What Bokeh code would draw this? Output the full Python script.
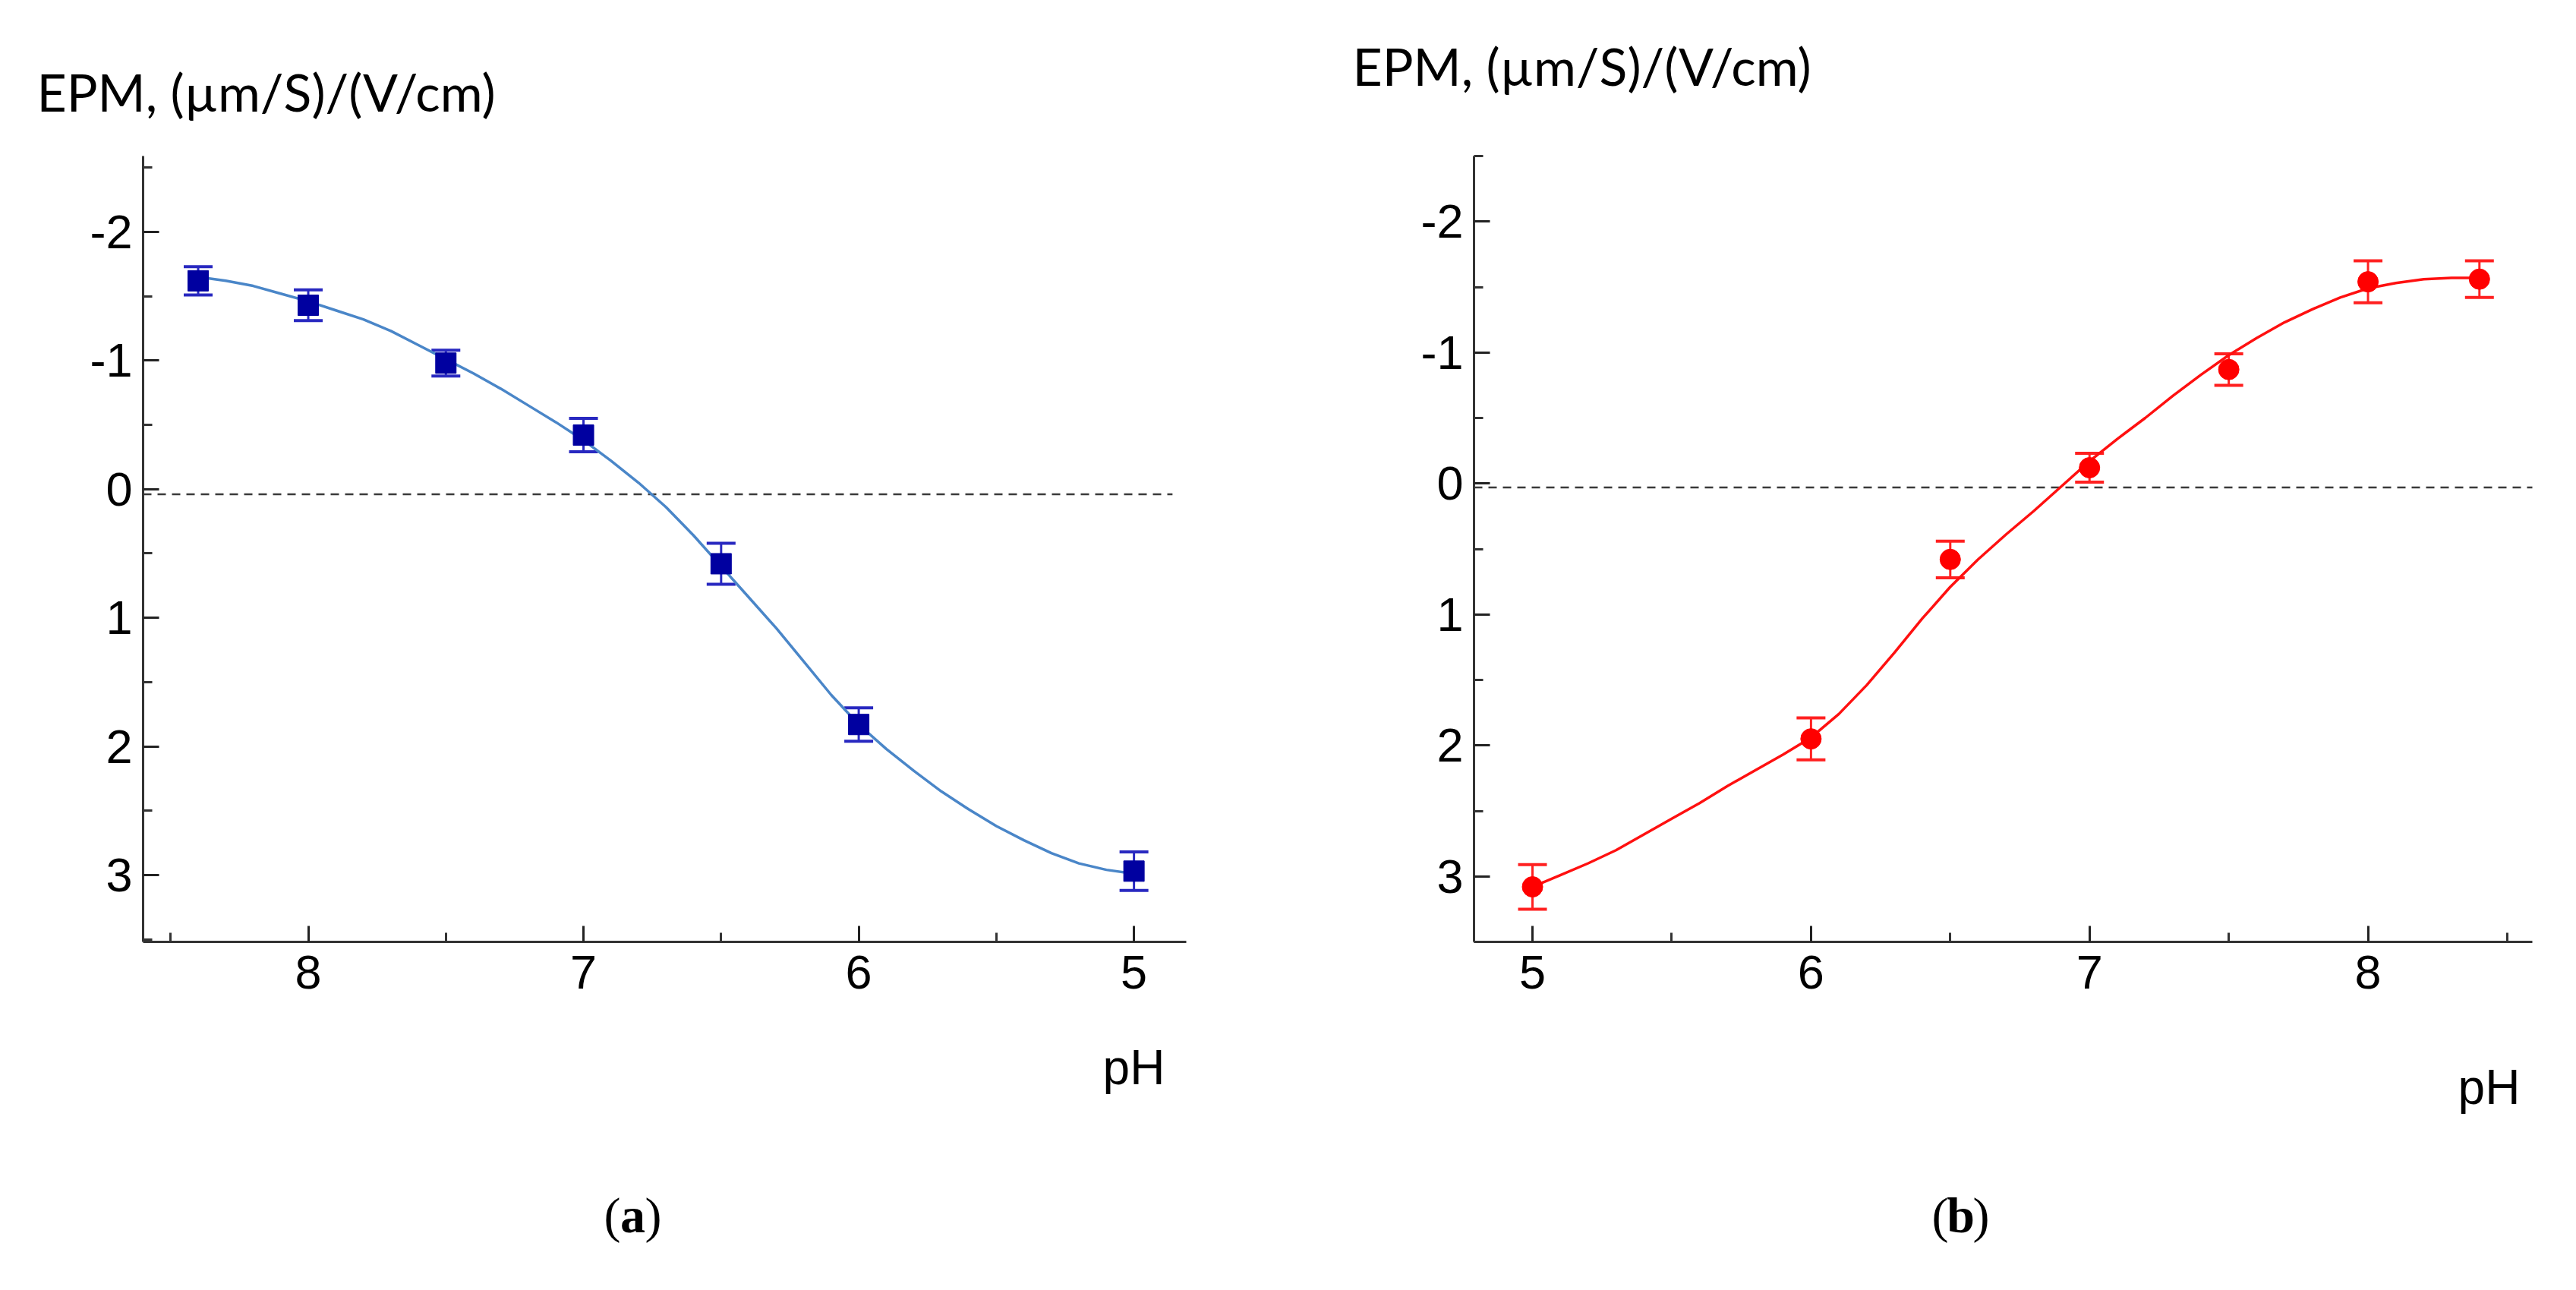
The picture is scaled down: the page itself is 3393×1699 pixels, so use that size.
from bokeh.plotting import figure
from bokeh.layouts import row, column
from bokeh.models import (ColumnDataSource, Range1d, FixedTicker, Whisker, TeeHead,
                          PrintfTickFormatter)
from bokeh.core.properties import value
from bokeh.embed import file_html
from bokeh.resources import INLINE

# panel (a): pH falling from 8.4 to 5
ph_a = [8.4, 8.0, 7.5, 7.0, 6.5, 6.0, 5.0]
epm_a = [-1.62, -1.43, -0.98, -0.42, 0.58, 1.83, 2.97]
err_a = [0.11, 0.12, 0.10, 0.13, 0.16, 0.13, 0.15]
fit_ph_a = [8.4, 8.3, 8.2, 8.1, 8.0, 7.9, 7.8, 7.7, 7.6, 7.5, 7.4, 7.3, 7.2, 7.1, 7.0,
            6.9, 6.8, 6.7, 6.6, 6.5, 6.4, 6.3, 6.2, 6.1, 6.0, 5.9, 5.8, 5.7, 5.6, 5.5,
            5.4, 5.3, 5.2, 5.1, 5.0]
fit_epm_a = [-1.65, -1.62, -1.58, -1.52, -1.46, -1.39, -1.32, -1.23, -1.12, -1.01, -0.90,
             -0.78, -0.65, -0.52, -0.38, -0.22, -0.05, 0.14, 0.36, 0.60, 0.84, 1.08, 1.34,
             1.60, 1.83, 2.02, 2.19, 2.35, 2.49, 2.62, 2.73, 2.83, 2.91, 2.96, 2.99]

# panel (b): pH rising from 5 to 8.4
ph_b = [5.0, 6.0, 6.5, 7.0, 7.5, 8.0, 8.4]
epm_b = [3.08, 1.95, 0.58, -0.12, -0.87, -1.54, -1.56]
err_b = [0.17, 0.16, 0.14, 0.11, 0.12, 0.16, 0.14]
fit_ph_b = [5.0, 5.1, 5.2, 5.3, 5.4, 5.5, 5.6, 5.7, 5.8, 5.9, 6.0, 6.1, 6.2, 6.3, 6.4,
            6.5, 6.6, 6.7, 6.8, 6.9, 7.0, 7.1, 7.2, 7.3, 7.4, 7.5, 7.6, 7.7, 7.8, 7.9,
            8.0, 8.1, 8.2, 8.3, 8.4]
fit_epm_b = [3.08, 2.99, 2.90, 2.80, 2.68, 2.56, 2.44, 2.31, 2.19, 2.07, 1.94, 1.76, 1.54,
             1.29, 1.03, 0.79, 0.58, 0.39, 0.21, 0.02, -0.17, -0.34, -0.50, -0.67, -0.83,
             -0.98, -1.11, -1.23, -1.33, -1.42, -1.49, -1.53, -1.56, -1.57, -1.57]

zero_a = ([8.6, 4.86], [0.04, 0.04])
zero_b = ([4.79, 8.61], [0.03, 0.03])

y_ticks = [-2, -1, 0, 1, 2, 3]
y_minor = [-2.5, -1.5, -0.5, 0.5, 1.5, 2.5, 3.5]
x_ticks = [5, 6, 7, 8]
x_minor = [5.5, 6.5, 7.5, 8.5]

y_title = "EPM, (\u00b5m/S)/(V/cm)"
x_title = "pH"
tags = ["a", "b"]

W_A, W_B = 1690, 1687
TOP_H, MAIN_H, BOT_H = 180, 1170, 333


def make_panel(width, x_range, y_range, left, right, ph, epm, err, fit_ph, fit_epm, zero,
               marker, mcolor, ecolor, fcolor):
    p = figure(width=width, height=MAIN_H, x_range=x_range, y_range=y_range,
               output_backend="svg", toolbar_location=None,
               min_border_left=left, min_border_right=right,
               min_border_top=25, min_border_bottom=110)
    p.grid.visible = False
    p.outline_line_color = None

    for ax, ticks, minor in [(p.xaxis[0], x_ticks, x_minor), (p.yaxis[0], y_ticks, y_minor)]:
        ax.ticker = FixedTicker(ticks=ticks, minor_ticks=minor)
        ax.formatter = PrintfTickFormatter(format="%d")
        ax.axis_line_width = 3
        ax.axis_line_color = "#333333"
        ax.major_tick_line_width = 3
        ax.minor_tick_line_width = 3
        ax.major_tick_line_color = "#222222"
        ax.minor_tick_line_color = "#333333"
        ax.major_tick_in = 21
        ax.major_tick_out = 0
        ax.minor_tick_in = 12
        ax.minor_tick_out = 0
        ax.major_label_text_font = "Liberation Sans"
        ax.major_label_text_font_size = "63px"
        ax.major_label_text_color = "black"
    p.yaxis.major_label_standoff = 14
    p.xaxis.major_label_standoff = 18

    p.line(zero[0], zero[1], line_color="#3a3a3a", line_width=2.5, line_dash="11 8")
    p.line(fit_ph, fit_epm, line_color=fcolor, line_width=3.5)

    src = ColumnDataSource(data=dict(
        x=ph, y=epm,
        lo=[v - e for v, e in zip(epm, err)],
        hi=[v + e for v, e in zip(epm, err)]))
    w = Whisker(source=src, base="x", lower="lo", upper="hi",
                line_color=ecolor, line_width=3,
                lower_head=TeeHead(size=38, line_color=ecolor, line_width=4),
                upper_head=TeeHead(size=38, line_color=ecolor, line_width=4))
    p.add_layout(w)
    p.scatter("x", "y", source=src, marker=marker, size=27,
              fill_color=mcolor, line_color=mcolor)
    return p


def text_strip(height):
    # empty figure whose frame is the whole strip, in pixel units from top-left
    t = figure(width=W_A + W_B, height=height, x_range=Range1d(0, W_A + W_B),
               y_range=Range1d(height, 0), output_backend="svg", toolbar_location=None,
               x_axis_type=None, y_axis_type=None, min_border=0)
    t.grid.visible = False
    t.outline_line_color = None
    return t


top = text_strip(TOP_H)
top.text(x=[48, 1781], y=[120, 86], text=[y_title, y_title], text_font=value("Lato"),
         text_font_size="68px", text_color="black", text_baseline="middle",
         text_align="left")

pa = make_panel(W_A, Range1d(8.6, 4.81), Range1d(3.52, -2.59), 188, 128,
                ph_a, epm_a, err_a, fit_ph_a, fit_epm_a, zero_a,
                "square", "#0000A0", "#2828C0", "#4A86C8")
pb = make_panel(W_B, Range1d(4.79, 8.59), Range1d(3.5, -2.5), 251, 42,
                ph_b, epm_b, err_b, fit_ph_b, fit_epm_b, zero_b,
                "circle", "#FF0000", "#FF2020", "#FF1010")

bot = text_strip(BOT_H)
bot.text(x=[1493, 3278], y=[1405 - 1350, 1431 - 1350], text=[x_title, x_title],
         text_font=value("Liberation Sans"), text_font_size="64px", text_color="black",
         text_baseline="middle", text_align="center")
tag_x = [833, 2582]
tag_y = 1600 - 1350
bot.text(x=[c - 16 for c in tag_x], y=[tag_y] * 2, text=["(", "("],
         text_font=value("Liberation Serif"), text_font_size="66px", text_color="black",
         text_baseline="middle", text_align="right")
bot.text(x=tag_x, y=[tag_y] * 2, text=tags,
         text_font=value("Liberation Serif"), text_font_size="66px", text_color="black",
         text_font_style="bold", text_baseline="middle", text_align="center")
bot.text(x=[c + 16 for c in tag_x], y=[tag_y] * 2, text=[")", ")"],
         text_font=value("Liberation Serif"), text_font_size="66px", text_color="black",
         text_baseline="middle", text_align="left")

layout = column(top, row(pa, pb), bot)
open("out.html", "w").write(file_html(layout, INLINE))
